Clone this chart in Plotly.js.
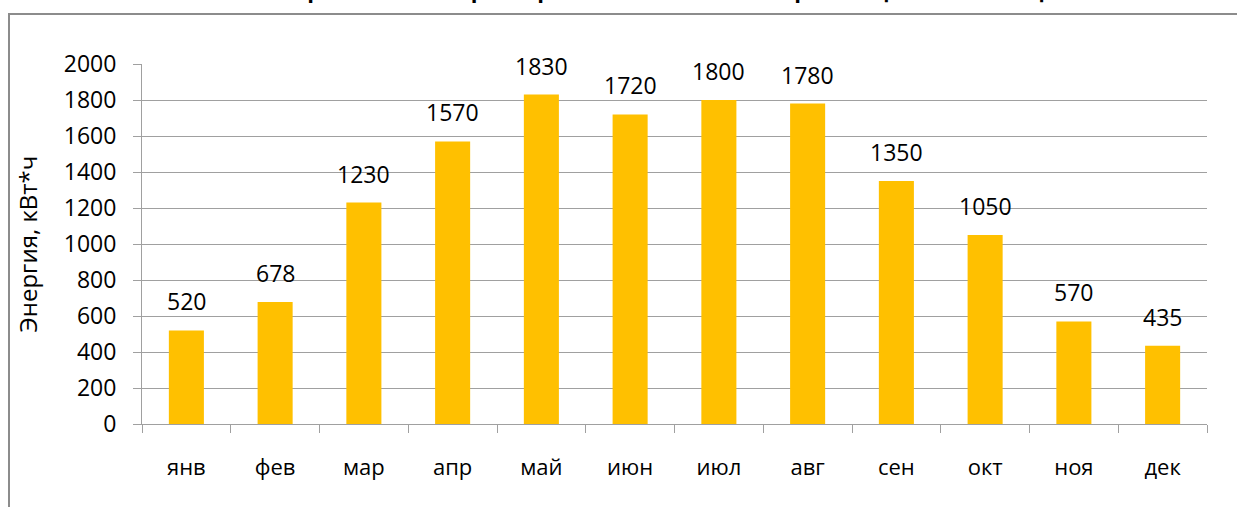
<!DOCTYPE html>
<html>
<head>
<meta charset="utf-8">
<script src="https://cdn.plot.ly/plotly-3.0.1.min.js"></script>
<style>html,body{margin:0;padding:0;background:#fff;}#chart{width:1237px;height:507px;}</style>
</head>
<body>
<div id="chart"></div>
<script>
const months = ["янв","фев","мар","апр","май","июн","июл","авг","сен","окт","ноя","дек"];
const energy = [520, 678, 1230, 1570, 1830, 1720, 1800, 1780, 1350, 1050, 570, 435];
const yTicks = [0, 200, 400, 600, 800, 1000, 1200, 1400, 1600, 1800, 2000];
const titleText = "Выработка электроэнергии солнечной электростанцией по месяцам";
const yTitle = "Энергия, кВт*ч";

const FONT = "Open Sans, Noto Sans, sans-serif";
const W = 1237, H = 507;
const m = {l: 142, r: 30, t: 64, b: 83};
const pw = W - m.l - m.r, ph = H - m.t - m.b;
const px = v => (v - m.l) / pw;
const py = v => (H - m.b - v) / ph;

const trace = {
  type: "bar",
  x: months,
  y: energy,
  marker: {color: "#FFC000", line: {width: 0}},
  hoverinfo: "x+y"
};

const annotations = months.map((mo, i) => ({
  x: mo, y: energy[i], xref: "x", yref: "y",
  text: String(energy[i]), showarrow: false,
  yanchor: "bottom", yshift: 11,
  font: {family: FONT, size: 23, color: "#000"}
}));

const layout = {
  width: W, height: H,
  margin: m,
  paper_bgcolor: "#fff", plot_bgcolor: "#fff",
  showlegend: false,
  bargap: 0.605,
  title: {
    text: titleText,
    font: {family: FONT, size: 22, color: "#000", weight: "bold"},
    xref: "paper", x: 0.5, xanchor: "center",
    yref: "container", y: 1, yanchor: "bottom",
    pad: {b: 2}
  },
  xaxis: {
    type: "category",
    showline: true, linecolor: "#a0a0a0", linewidth: 1,
    ticks: "outside", tickson: "boundaries", ticklen: 8, tickcolor: "#a0a0a0", tickwidth: 1,
    showgrid: false, zeroline: false,
    tickfont: {family: FONT, size: 22, color: "#000"},
    ticklabelstandoff: 24
  },
  yaxis: {
    range: [0, 2000],
    tickvals: yTicks,
    ticktext: yTicks.map(String),
    showline: true, linecolor: "#a0a0a0", linewidth: 1,
    ticks: "outside", ticklen: 8, tickcolor: "#a0a0a0", tickwidth: 1,
    showgrid: true, gridcolor: "#a0a0a0", gridwidth: 1,
    zeroline: false,
    tickfont: {family: FONT, size: 23, color: "#000"},
    ticklabelstandoff: 12,
    title: {text: yTitle, font: {family: FONT, size: 24, color: "#000"}, standoff: 19}
  },
  annotations: annotations,
  shapes: [{
    type: "rect", xref: "paper", yref: "paper",
    x0: px(9), x1: px(1260), y0: py(530), y1: py(14),
    line: {color: "#8c8c8c", width: 2}, fillcolor: "rgba(0,0,0,0)", layer: "below"
  }]
};

Plotly.newPlot("chart", [trace], layout, {displayModeBar: false, staticPlot: true});
</script>
</body>
</html>
